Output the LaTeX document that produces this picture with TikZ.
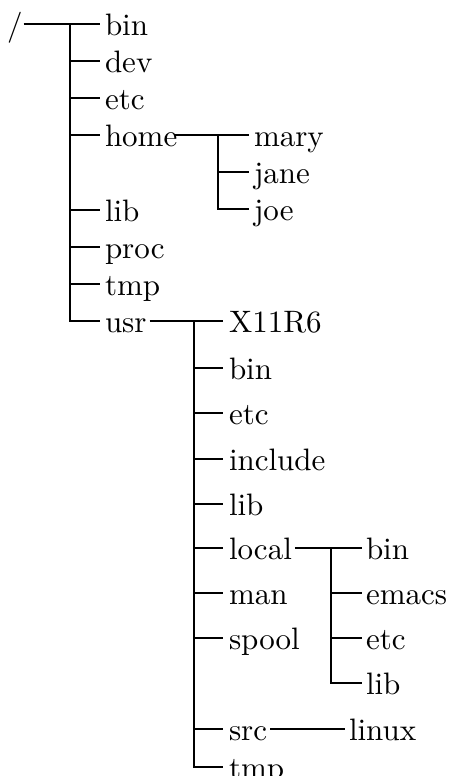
\documentclass[tikz,border=0pt]{standalone}
\usepackage{fontspec}
\setmainfont{lmroman10-regular.otf}
\begin{document}
\begin{tikzpicture}[x=1pt,y=-1pt,
  line width=2pt,
  entry/.style={anchor=west,inner sep=0pt,text height=23pt,text depth=0pt,
    font=\fontsize{31}{37}\selectfont}]
\useasboundingbox (0,0) rectangle (452,776);

% root and first level
\node[entry] (root) at (6,24) {/};
\node[entry] (bin)  at (104,24)  {bin};
\node[entry] (dev)  at (104,61)  {dev};
\node[entry] (etc)  at (104,98)  {etc};
\node[entry] (home) at (104,135) {home};
\node[entry] (lib)  at (104,210) {lib};
\node[entry] (proc) at (104,247) {proc};
\node[entry] (tmp)  at (104,284) {tmp};
\node[entry] (usr)  at (104,321) {usr};

% /home
\node[entry] (mary) at (253,135) {mary};
\node[entry] (jane) at (253,172) {jane};
\node[entry] (joe)  at (253,209) {joe};

% /usr
\node[entry] (x11)     at (228,321) {X11R6};
\node[entry] (ubin)    at (228,368) {bin};
\node[entry] (uetc)    at (228,413) {etc};
\node[entry] (uinc)    at (228,459) {include};
\node[entry] (ulib)    at (228,504) {lib};
\node[entry] (ulocal)  at (228,548) {local};
\node[entry] (uman)    at (228,593) {man};
\node[entry] (uspool)  at (228,638) {spool};
\node[entry] (usrc)    at (228,729) {src};
\node[entry] (utmp)    at (228,767) {tmp};

% /usr/local
\node[entry] (lbin)   at (365,548) {bin};
\node[entry] (lemacs) at (365,593) {emacs};
\node[entry] (letc)   at (365,638) {etc};
\node[entry] (llib)   at (365,683) {lib};

% /usr/src
\node[entry] (linux) at (348,729) {linux};

% trunk of /
\coordinate (t) at (70,24);
\draw (root.east) -- ([xshift=-4pt]bin.west);
\draw (t) |- ([xshift=-4pt]usr.west);
\foreach \n in {dev,etc,home,lib,proc,tmp}
  \draw (t |- \n.west) -- ([xshift=-4pt]\n.west);

% trunk of /home
\coordinate (h) at (218,135);
\draw ([xshift=-3pt]home.east) -- ([xshift=-4pt]mary.west);
\draw (h) |- ([xshift=-4pt]joe.west);
\draw (h |- jane.west) -- ([xshift=-4pt]jane.west);

% trunk of /usr
\coordinate (u) at (194,321);
\draw ([xshift=2pt]usr.east) -- ([xshift=-5pt]x11.west);
\draw (u) |- ([xshift=-5pt]utmp.west);
\foreach \n in {ubin,uetc,uinc,ulib,ulocal,uman,uspool,usrc}
  \draw (u |- \n.west) -- ([xshift=-5pt]\n.west);

% trunk of /usr/local
\coordinate (l) at (331,548);
\draw ([xshift=2pt]ulocal.east) -- ([xshift=-3pt]lbin.west);
\draw (l) |- ([xshift=-3pt]llib.west);
\foreach \n in {lemacs,letc}
  \draw (l |- \n.west) -- ([xshift=-3pt]\n.west);

% /usr/src
\draw ([xshift=2pt]usrc.east) -- ([xshift=-3pt]linux.west);
\end{tikzpicture}
\end{document}
